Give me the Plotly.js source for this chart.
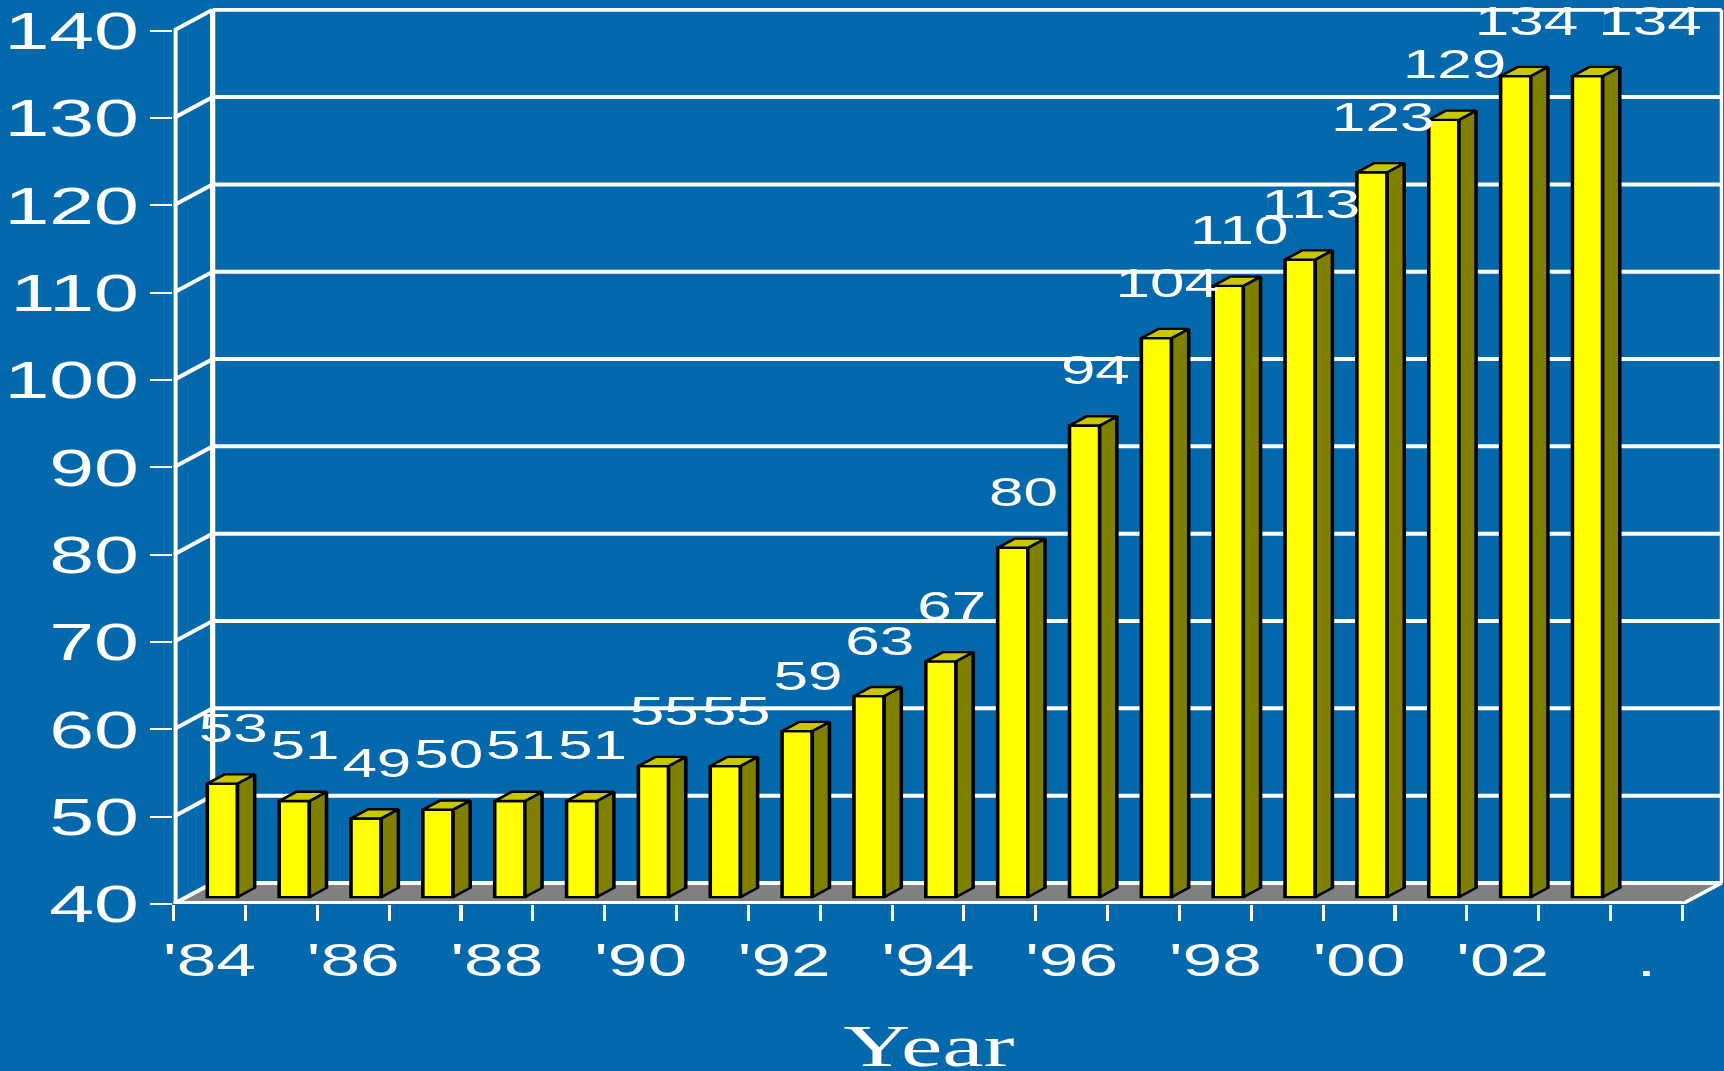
<!DOCTYPE html>
<html>
<head>
<meta charset="utf-8">
<script src="https://cdn.plot.ly/plotly-3.0.1.min.js"></script>
<style>
  html, body { margin:0; padding:0; background:#0368ac; overflow:hidden; width:1724px; height:1071px; }
  #chart { width:1112px; height:1071px; transform:scaleX(1.55); transform-origin:0 0; }
</style>
</head>
<body>
<div id="chart"></div>
<script>
// ---- data ----
const years = ["'84","'85","'86","'87","'88","'89","'90","'91","'92","'93",
               "'94","'95","'96","'97","'98","'99","'00","'01","'02","'03"];
const values = [53,51,49,50,51,51,55,55,59,63,67,80,94,104,110,113,123,129,134,134];
const tickLabels = ["'84","'86","'88","'90","'92","'94","'96","'98","'00","'02","."];
const yTicks = [40,50,60,70,80,90,100,110,120,130,140];
const xTitle = 'Year';

// ---- 3D look (axis units) ----
const WX = 0.543, WY = 2.405;   // depth of the walls
const FD = 0.33, BD = 0.44;     // front plane of bars, bar depth (fractions of wall depth)
const BW = 0.42;                // bar width
const yMin = yTicks[0], yMax = yTicks[yTicks.length-1];
const nSlots = tickLabels.length*2 - 1;
const xL = -0.5, xR = nSlots - 0.5;

const BLUE = '#0368ac';
const idx = years.map((_, i) => i);
const baseY = yMin + FD*WY;
const off = FD*WX - BW/2;

// side & top faces
const sx = [], sy = [], tx = [], ty = [];
values.forEach((v, i) => {
  const x0 = i + off, x1 = x0 + BW;
  const yt = v + FD*WY;
  const dx = BD*WX, dy = BD*WY;
  sx.push(x1, x1+dx, x1+dx, x1, x1, null);
  sy.push(baseY, baseY+dy, yt+dy, yt, baseY, null);
  tx.push(x0, x1, x1+dx, x0+dx, x0, null);
  ty.push(yt, yt, yt+dy, yt+dy, yt, null);
});

const traces = [
  {type:'bar', x: idx, y: values.map(v => v - yMin), base: baseY, width: BW, offset: off,
   marker:{color:'#ffff00', line:{color:'#000000', width:2.3}}, hoverinfo:'skip', showlegend:false},
  {type:'scatter', mode:'lines', x: sx, y: sy, fill:'toself', fillcolor:'#808000',
   line:{color:'#000000', width:2.3}, hoverinfo:'skip', showlegend:false},
  {type:'scatter', mode:'lines', x: tx, y: ty, fill:'toself', fillcolor:'#c8c800',
   line:{color:'#000000', width:2.3}, hoverinfo:'skip', showlegend:false},
  {type:'scatter', mode:'text', x: idx.map(i => i + FD*WX + 0.15),
   y: values.map(v => v + FD*WY + 5.9), text: values.map(String),
   textposition: idx.map(i => i === idx.length-1 ? 'middle right' : 'middle center'),
   cliponaxis:false,
   textfont:{family:'Liberation Sans, Arial, sans-serif', size:40, color:'#ffffff'},
   hoverinfo:'skip', showlegend:false}
];

// walls, floor, grid
const shapes = [];
const W = '#ffffff';
shapes.push({type:'path', layer:'below', xref:'x', yref:'y',
  path:`M ${xL} ${yMin} L ${xR} ${yMin} L ${xR+WX} ${yMin+WY} L ${xL+WX} ${yMin+WY} Z`,
  fillcolor:'#808080', line:{width:0}});
yTicks.forEach(t => {
  shapes.push({type:'line', layer:'below', xref:'x', yref:'y', x0:xL+WX, y0:t+WY, x1:xR+WX, y1:t+WY, line:{color:W, width:4}});
  shapes.push({type:'line', layer:'below', xref:'x', yref:'y', x0:xL, y0:t, x1:xL+WX, y1:t+WY, line:{color:W, width:3.5}});
});
shapes.push({type:'line', layer:'below', xref:'x', yref:'y', x0:xL+WX, y0:yMin+WY, x1:xL+WX, y1:yMax+WY, line:{color:W, width:3.4}});
shapes.push({type:'line', layer:'below', xref:'x', yref:'y', x0:xR+WX, y0:yMin+WY, x1:xR+WX, y1:yMax+WY, line:{color:W, width:2.2}});
shapes.push({type:'line', layer:'below', xref:'x', yref:'y', x0:xL, y0:yMin, x1:xL, y1:yMax, line:{color:W, width:5.2}});
shapes.push({type:'line', layer:'below', xref:'x', yref:'y', x0:xL, y0:yMin, x1:xR, y1:yMin, line:{color:W, width:6}});
shapes.push({type:'line', layer:'below', xref:'x', yref:'y', x0:xR, y0:yMin, x1:xR+WX, y1:yMin+WY, line:{color:W, width:3}});

const boundaries = [];
for (let k = 0; k <= nSlots; k++) boundaries.push(k - 0.5);

const layout = {
  width:1112, height:1071,
  margin:{l:112, r:0, t:8, b:167, pad:0},
  paper_bgcolor:BLUE, plot_bgcolor:BLUE,
  showlegend:false,
  xaxis:{
    range:[xL, xR+WX+0.03], tickmode:'array',
    tickvals: tickLabels.map((_, k) => 2*k), ticktext: tickLabels,
    ticks:'outside', ticklen:16, tickcolor:'rgba(0,0,0,0)',
    tickfont:{family:'Liberation Sans, Arial, sans-serif', size:46, color:'#ffffff'},
    showgrid:false, zeroline:false, showline:false, automargin:false,
    minor:{tickvals: boundaries, ticks:'outside', ticklen:16, tickwidth:2, tickcolor:'#ffffff', showgrid:false}
  },
  yaxis:{
    range:[yMin, yMax+WY+0.2], tickmode:'array', tickvals:yTicks,
    ticks:'outside', ticklen:14, tickwidth:2, tickcolor:'#ffffff', ticklabelstandoff:-3,
    tickfont:{family:'Liberation Sans, Arial, sans-serif', size:52, color:'#ffffff'},
    showgrid:false, zeroline:false, showline:false, automargin:false
  },
  annotations:[{
    text:xTitle, xref:'paper', yref:'paper', x:0.4874, y:-0.1194,
    xanchor:'center', yanchor:'top', showarrow:false,
    font:{family:'Liberation Serif, Times New Roman, serif', size:60, color:'#ffffff'}
  }],
  shapes: shapes
};

Plotly.newPlot('chart', traces, layout, {displayModeBar:false, staticPlot:true});
</script>
</body>
</html>
